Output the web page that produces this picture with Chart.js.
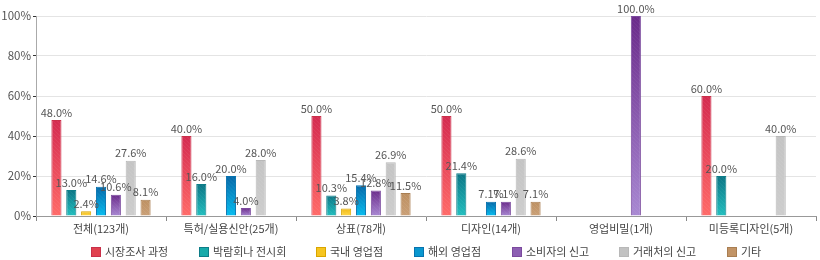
<!DOCTYPE html>
<html><head><meta charset="utf-8">
<script src="https://cdn.jsdelivr.net/npm/chart.js@4/dist/chart.umd.min.js"></script>
<style>html,body{margin:0;padding:0;background:#fff;}#wrap{width:820px;height:260px;}</style>
</head><body><div id="wrap"><canvas id="c" width="820" height="260"></canvas></div>
<script>
const categories = ['전체(123개)', '특허/실용신안(25개)', '상표(78개)', '디자인(14개)', '영업비밀(1개)', '미등록디자인(5개)'];
const seriesNames = ['시장조사 과정', '박람회나 전시회', '국내 영업점', '해외 영업점', '소비자의 신고', '거래처의 신고', '기타'];
const marketSurvey   = [48.0, 40.0, 50.0, 50.0, null, 60.0];
const exhibition     = [13.0, 16.0, 10.3, 21.4, null, 20.0];
const domesticStore  = [2.4, null, 3.8, null, null, null];
const overseasStore  = [14.6, 20.0, 15.4, 7.1, null, null];
const consumerReport = [10.6, 4.0, 12.8, 7.1, 100.0, null];
const partnerReport  = [27.6, 28.0, 26.9, 28.6, null, 40.0];
const otherSource    = [8.1, null, 11.5, 7.1, null, null];
const yTickValues = [0, 20, 40, 60, 80, 100];

const seriesValues = [marketSurvey, exhibition, domesticStore, overseasStore, consumerReport, partnerReport, otherSource];
// [gradient top, gradient bottom, border, legend]
const palette = [
  ['#d42b50', '#ff6a68', '#c9304a', '#e0414f'],
  ['#0b7585', '#22bfbf', '#0d7d88', '#17aaaa'],
  ['#f0b810', '#ffd84a', '#d9a500', '#f6c520'],
  ['#0668a8', '#05bdf0', '#0773ae', '#0997cf'],
  ['#6a2a8a', '#a888d2', '#7b4a9e', '#8d5fb3'],
  ['#c4c4c4', '#cdcdcd', '#b8b8b8', '#c2c2c2'],
  ['#bd9062', '#caa077', '#a97e52', '#c29466']
];
const FONT = "'Noto Sans CJK KR', 'Noto Sans', sans-serif";

function gradFill(i) {
  return function (c) {
    const top = palette[i][0], bottom = palette[i][1];
    const chart = c.chart;
    if (c.type !== 'data' || c.raw == null || !chart.chartArea || !chart.scales.y) return top;
    const ys = chart.scales.y;
    const y0 = ys.getPixelForValue(c.raw), y1 = ys.getPixelForValue(0);
    if (!isFinite(y0) || !isFinite(y1) || y0 === y1) return top;
    const g = chart.ctx.createLinearGradient(0, y0, 0, y1);
    g.addColorStop(0, top); g.addColorStop(1, bottom);
    return g;
  };
}

const hatchPlugin = {
  id: 'hatch',
  afterDatasetsDraw(chart) {
    const ctx = chart.ctx;
    chart.data.datasets.forEach((ds, di) => {
      const meta = chart.getDatasetMeta(di);
      meta.data.forEach((el, j) => {
        if (ds.data[j] == null) return;
        const p = el.getProps(['x', 'y', 'base', 'width'], true);
        const l = p.x - p.width / 2, t = Math.min(p.y, p.base), h = Math.abs(p.base - p.y);
        ctx.save();
        ctx.beginPath(); ctx.rect(l + 1, t + 1, p.width - 2, h - 2); ctx.clip();
        ctx.strokeStyle = 'rgba(255,255,255,0.07)'; ctx.lineWidth = 1;
        ctx.beginPath();
        for (let a = l - h; a < l + p.width; a += 4) {
          ctx.moveTo(a, t); ctx.lineTo(a + h, t + h);
        }
        ctx.stroke();
        ctx.restore();
      });
    });
  }
};

const labelPlugin = {
  id: 'valueLabels',
  afterDatasetsDraw(chart) {
    const ctx = chart.ctx;
    ctx.save();
    ctx.font = '11px ' + FONT;
    ctx.fillStyle = '#555';
    ctx.textAlign = 'center';
    ctx.textBaseline = 'bottom';
    chart.data.datasets.forEach((ds, di) => {
      const meta = chart.getDatasetMeta(di);
      meta.data.forEach((el, j) => {
        const v = ds.data[j];
        if (v == null) return;
        const p = el.getProps(['x', 'y'], true);
        ctx.fillText(v.toFixed(1) + '%', p.x, p.y - 2);
      });
    });
    ctx.restore();
  }
};

const legendPlugin = {
  id: 'bottomLegend',
  afterDraw(chart) {
    const ctx = chart.ctx, ca = chart.chartArea;
    ctx.save();
    ctx.font = '11px ' + FONT;
    const box = 10, gapText = 4, gapItem = 30.5, cy = 252;
    const items = chart.data.datasets.map((d, i) => ({
      text: d.label, i, w: box + gapText + ctx.measureText(d.label).width
    }));
    const total = items.reduce((s, it) => s + it.w, 0) + gapItem * (items.length - 1);
    let x = (ca.left + ca.right) / 2 - total / 2;
    items.forEach(it => {
      const bx = Math.round(x);
      ctx.fillStyle = palette[it.i][3];
      ctx.fillRect(bx, cy - 5, box, box);
      ctx.strokeStyle = palette[it.i][2]; ctx.lineWidth = 1;
      ctx.strokeRect(bx + 0.5, cy - 4.5, box - 1, box - 1);
      ctx.fillStyle = '#444'; ctx.textAlign = 'left'; ctx.textBaseline = 'middle';
      ctx.fillText(it.text, bx + box + gapText, cy);
      x += it.w + gapItem;
    });
    ctx.restore();
  }
};

new Chart(document.getElementById('c'), {
  type: 'bar',
  data: {
    labels: categories,
    datasets: seriesNames.map((name, i) => ({
      label: name,
      data: seriesValues[i],
      backgroundColor: gradFill(i),
      borderColor: palette[i][2],
      borderWidth: 1,
      categoryPercentage: 0.8,
      barPercentage: 0.68
    }))
  },
  options: {
    responsive: false,
    animation: false,
    devicePixelRatio: 1,
    layout: { padding: { top: 16, right: 4, bottom: 24, left: 0 } },
    plugins: { legend: { display: false }, tooltip: { enabled: false } },
    scales: {
      x: {
        afterFit(s) { s.height = 20; },
        grid: { offset: true, drawOnChartArea: false, drawTicks: true, tickLength: 5, tickColor: '#888' },
        border: { color: '#999' },
        ticks: { font: { family: FONT, size: 11 }, color: '#444', padding: 1 }
      },
      y: {
        min: 0, max: 100,
        afterFit(s) { s.width = 36; },
        afterBuildTicks(s) { s.ticks = yTickValues.map(v => ({ value: v })); },
        grid: { color: '#e4e4e4', tickColor: '#333', tickLength: 3, drawTicks: true },
        border: { color: '#aaa' },
        ticks: { font: { family: FONT, size: 11.5 }, color: '#555', padding: 2, callback: v => v + '%' }
      }
    }
  },
  plugins: [hatchPlugin, labelPlugin, legendPlugin]
});
</script></body></html>
